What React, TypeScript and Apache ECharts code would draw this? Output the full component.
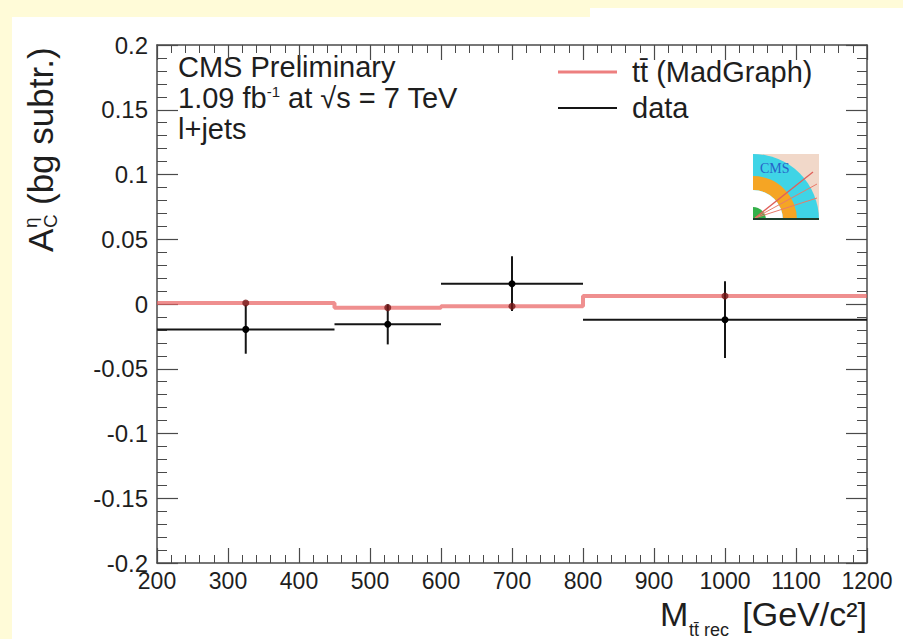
import React, { useEffect, useRef } from "react";
import * as echarts from "echarts";

// ---- data ----
const binEdges = [200, 450, 600, 800, 1200];
const mcValues = [0.0008, -0.0028, -0.0018, 0.0062];
const dataValues = [-0.0196, -0.0157, 0.0157, -0.0121];
const dataErrors = [0.0188, 0.0155, 0.0211, 0.0296];
const xTickLabels = ["200", "300", "400", "500", "600", "700", "800", "900", "1000", "1100", "1200"];
const yTickLabels = ["-0.2", "-0.15", "-0.1", "-0.05", "0", "0.05", "0.1", "0.15", "0.2"];
const legendLabels = ["tt\u0304 (MadGraph)", "data"];
const infoLines = ["CMS Preliminary", "1.09 fb{sup|-1} at \u221As = 7 TeV", "l+jets"];

const FONT = "'Liberation Sans', Arial, Helvetica, sans-serif";
const TXT = "#1e1e1e";
const AX = "#4a4a4a";

export default function App() {
  const ref = useRef<HTMLDivElement>(null);

  useEffect(() => {
    const chart = echarts.init(ref.current as HTMLDivElement, null, {
      renderer: "svg",
      width: 903,
      height: 639,
    });

    const centers = mcValues.map((_, i) => (binEdges[i] + binEdges[i + 1]) / 2);
    const mcLine = binEdges.map((x, i) => [x, mcValues[Math.min(i, mcValues.length - 1)]]);
    const mcPoints = mcValues.map((v, i) => [centers[i], v]);
    const dataRows = dataValues.map((v, i) => [binEdges[i], binEdges[i + 1], centers[i], v, dataErrors[i]]);

    const xAxisBase = (pos: "bottom" | "top", labels: boolean) => ({
      type: "value",
      position: pos,
      min: 200,
      max: 1200,
      interval: 100,
      axisLine: { show: true, onZero: false, lineStyle: { color: AX, width: 1.5 } },
      axisTick: { show: true, inside: true, length: 15, lineStyle: { color: AX, width: 1.2 } },
      minorTick: { show: true, splitNumber: 5, length: 8, lineStyle: { color: AX, width: 1 } },
      splitLine: { show: false },
      axisLabel: {
        show: labels,
        margin: 6,
        color: TXT,
        fontSize: 23,
        lineHeight: 23,
        fontFamily: FONT,
        showMinLabel: true,
        showMaxLabel: true,
        formatter: (v: number) => xTickLabels[Math.round((v - 200) / 100)] ?? "",
      },
    });
    const yAxisBase = (pos: "left" | "right", labels: boolean) => ({
      type: "value",
      position: pos,
      min: -0.2,
      max: 0.2,
      interval: 0.05,
      axisLine: { show: true, onZero: false, lineStyle: { color: AX, width: 1.5 } },
      axisTick: { show: true, inside: true, length: 21, lineStyle: { color: AX, width: 1.2 } },
      minorTick: { show: true, splitNumber: 5, length: 10, lineStyle: { color: AX, width: 1 } },
      splitLine: { show: false },
      axisLabel: {
        show: labels,
        margin: 9,
        color: TXT,
        fontSize: 24,
        fontFamily: FONT,
        showMinLabel: true,
        showMaxLabel: true,
        formatter: (v: number) => yTickLabels[Math.round((v + 0.2) / 0.05)] ?? "",
      },
    });

    const option: any = {
      animation: false,
      grid: { left: 157, right: 36, top: 45, bottom: 76, containLabel: false, outerBoundsMode: "none" },
      xAxis: [xAxisBase("bottom", true), xAxisBase("top", false)],
      yAxis: [yAxisBase("left", true), yAxisBase("right", false)],
      series: [
        {
          type: "line",
          name: legendLabels[0],
          step: "end",
          data: mcLine,
          symbol: "none",
          lineStyle: { color: "rgba(232, 95, 95, 0.7)", width: 4 },
          z: 2,
        },
        {
          type: "custom",
          name: legendLabels[1],
          data: dataRows,
          encode: { x: [0, 1, 2], y: [3] },
          z: 3,
          renderItem: (params: any, api: any) => {
            const lo = api.value(0);
            const hi = api.value(1);
            const c = api.value(2);
            const v = api.value(3);
            const e = api.value(4);
            const a = api.coord([lo, v]);
            const b = api.coord([hi, v]);
            const t = api.coord([c, v + e]);
            const d = api.coord([c, v - e]);
            const m = api.coord([c, v]);
            const st = { stroke: "#151515", lineWidth: 2 };
            return {
              type: "group",
              children: [
                { type: "line", shape: { x1: a[0], y1: a[1], x2: b[0], y2: b[1] }, style: st },
                { type: "line", shape: { x1: t[0], y1: t[1], x2: d[0], y2: d[1] }, style: st },
                { type: "circle", shape: { cx: m[0], cy: m[1], r: 3.5 }, style: { fill: "#000" } },
              ],
            };
          },
        },
        {
          type: "scatter",
          data: mcPoints,
          symbol: "circle",
          symbolSize: 7,
          itemStyle: { color: "#741818" },
          z: 4,
        },
      ],
      graphic: [
        // info text
        ...infoLines.map((t, i) => ({
          type: "text",
          x: 178,
          y: [67, 98, 129][i],
          silent: true,
          style: {
            text: t,
            fontSize: 29,
            fontFamily: FONT,
            fill: TXT,
            align: "left",
            verticalAlign: "middle",
            rich: { sup: { fontSize: 15, fontFamily: FONT, fill: TXT, verticalAlign: "top" } },
          },
        })),
        // legend
        { type: "line", silent: true, shape: { x1: 558, y1: 72, x2: 617, y2: 72 }, style: { stroke: "rgba(232, 95, 95, 0.8)", lineWidth: 3 } },
        { type: "line", silent: true, shape: { x1: 558, y1: 108, x2: 617, y2: 108 }, style: { stroke: "#151515", lineWidth: 2 } },
        ...legendLabels.map((t, i) => ({
          type: "text",
          x: 632,
          y: [72, 108][i],
          silent: true,
          style: { text: t, fontSize: 29, fontFamily: FONT, fill: TXT, align: "left", verticalAlign: "middle" },
        })),
        // y-axis title
        {
          type: "group",
          x: 40,
          y: 252,
          rotation: Math.PI / 2,
          silent: true,
          children: [
            { type: "text", x: 0, y: 0, style: { text: "A", fontSize: 35, fontFamily: FONT, fill: TXT, align: "left", verticalAlign: "middle" } },
            { type: "text", x: 24, y: -10, style: { text: "\u03B7", fontSize: 19, fontFamily: FONT, fill: TXT, align: "left", verticalAlign: "middle" } },
            { type: "text", x: 24, y: 10, style: { text: "C", fontSize: 19, fontFamily: FONT, fill: TXT, align: "left", verticalAlign: "middle" } },
            { type: "text", x: 47, y: 0, style: { text: "(bg subtr.)", fontSize: 35, fontFamily: FONT, fill: TXT, align: "left", verticalAlign: "middle" } },
          ],
        },
        // x-axis title
        {
          type: "text",
          x: 867,
          y: 614,
          silent: true,
          style: { text: "[GeV/c\u00B2]", fontSize: 34, lineHeight: 30, fontFamily: FONT, fill: TXT, align: "right", verticalAlign: "middle" },
        },
        {
          type: "text",
          x: 660,
          y: 614,
          silent: true,
          style: { text: "M", fontSize: 34, lineHeight: 30, fontFamily: FONT, fill: TXT, align: "left", verticalAlign: "middle" },
        },
        {
          type: "text",
          x: 689,
          y: 630,
          silent: true,
          style: { text: "tt\u0304 rec", fontSize: 18, lineHeight: 16, fontFamily: FONT, fill: TXT, align: "left", verticalAlign: "middle" },
        },
        // CMS logo
        {
          type: "group",
          x: 753,
          y: 154,
          silent: true,
          children: [
            { type: "rect", shape: { x: 0, y: 0, width: 66, height: 66 }, style: { fill: "#f1d8c9" } },
            { type: "sector", shape: { cx: 0, cy: 66, r: 66, r0: 0, startAngle: -Math.PI / 2, endAngle: 0, clockwise: true }, style: { fill: "#3fd4e6" } },
            { type: "sector", shape: { cx: 0, cy: 66, r: 44, r0: 30, startAngle: -Math.PI / 2, endAngle: 0, clockwise: true }, style: { fill: "#f5a524" } },
            { type: "sector", shape: { cx: 0, cy: 66, r: 30, r0: 0, startAngle: -Math.PI / 2, endAngle: 0, clockwise: true }, style: { fill: "#ffffff" } },
            { type: "sector", shape: { cx: 0, cy: 66, r: 13, r0: 0, startAngle: -Math.PI / 2, endAngle: 0, clockwise: true }, style: { fill: "#34b04a" } },
            { type: "line", shape: { x1: 2, y1: 64, x2: 60, y2: 18 }, style: { stroke: "#e0605a", lineWidth: 1.3 } },
            { type: "line", shape: { x1: 2, y1: 64, x2: 64, y2: 30 }, style: { stroke: "#e87a6a", lineWidth: 1 } },
            { type: "line", shape: { x1: 2, y1: 64, x2: 64, y2: 44 }, style: { stroke: "#e87a6a", lineWidth: 1 } },
            { type: "text", x: 7, y: 14, style: { text: "CMS", fontSize: 14, fontFamily: "'Liberation Serif', serif", fill: "#2763c8", align: "left", verticalAlign: "middle" } },
            { type: "rect", shape: { x: 0, y: 64, width: 66, height: 2 }, style: { fill: "#1d3d2c" } },
          ],
        },
      ],
    };

    chart.setOption(option);
    return () => chart.dispose();
  }, []);

  return (
    <div style={{ position: "fixed", left: 0, top: 0, width: 903, height: 639, background: "#fffbd8", overflow: "hidden" }}>
      <div style={{ position: "absolute", left: 12, top: 17, right: 0, bottom: 0, background: "#ffffff" }} />
      <div style={{ position: "absolute", left: 590, top: 8, right: 0, height: 20, background: "#ffffff" }} />
      <div ref={ref} style={{ position: "absolute", left: 0, top: 0, width: 903, height: 639 }} />
    </div>
  );
}
